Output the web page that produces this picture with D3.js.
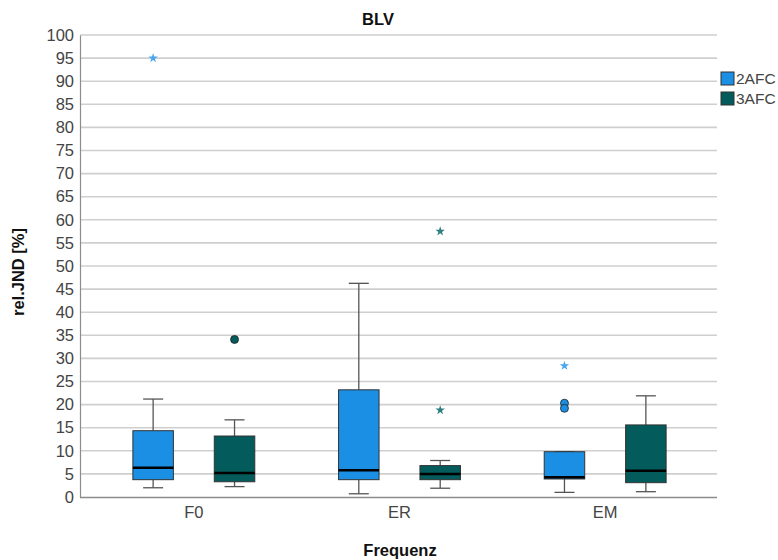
<!DOCTYPE html>
<html><head><meta charset="utf-8">
<script src="https://cdn.jsdelivr.net/npm/d3@7"></script>
<style>body{margin:0;background:#fff}svg{display:block}text{font-family:"Liberation Sans",Arial,sans-serif}</style>
</head><body><svg id="c" width="778" height="560"></svg>
<script>
const categories = ["F0", "ER", "EM"];
const seriesNames = ["2AFC", "3AFC"];
const seriesColors = ["#1a8fe3", "#035b5b"];
const starColors = ["#4aa6ee", "#2e7f7f"];
// [whiskerLow, q1, median, q3, whiskerHigh] per category, per series
const box2AFC = [[2.0, 3.75, 6.35, 14.35, 21.2], [0.7, 3.75, 5.8, 23.2, 46.25], [1.0, 3.9, 4.25, 9.8, 9.8]];
const box3AFC = [[2.25, 3.3, 5.2, 13.2, 16.7], [1.9, 3.75, 5.0, 6.8, 7.9], [1.15, 3.1, 5.7, 15.6, 21.9]];
// outliers: [categoryIndex, value, type]
const outliers2AFC = [[0, 95.0, "star"], [2, 28.4, "star"], [2, 20.3, "circle"], [2, 19.2, "circle"]];
const outliers3AFC = [[0, 34.1, "circle"], [1, 57.5, "star"], [1, 18.8, "star"]];
const yTicks = d3.range(0, 101, 5);

const svg = d3.select("#c");
const y = d3.scaleLinear().domain([0, 100]).range([497, 35]);
const x = d3.scaleBand().domain(categories).range([91, 708]);
const plotL = 80, plotR = 717;
const bw = 40.5;
const offs = {"2AFC": -40.7, "3AFC": 40.7};

// gridlines
svg.append("g").selectAll("line").data(yTicks.filter(d => d > 0)).join("line")
  .attr("x1", plotL).attr("x2", plotR).attr("y1", d => y(d)).attr("y2", d => y(d))
  .attr("stroke", "#cfcfcf").attr("stroke-width", 1.6);

// y axis
const ya = svg.append("g").attr("transform", `translate(${plotL},0)`)
  .call(d3.axisLeft(y).tickValues(yTicks).tickSize(0).tickPadding(6));
ya.select(".domain").attr("stroke", "#8c8c8c").attr("stroke-width", 1.2);
ya.selectAll("text").attr("font-size", 16.5).attr("fill", "#444");

// x axis
const xa = svg.append("g").attr("transform", `translate(0,497)`)
  .call(d3.axisBottom(x).tickSize(0).tickPadding(9));
xa.select(".domain").remove();
svg.append("line").attr("x1", plotL).attr("x2", plotR).attr("y1", 497.5).attr("y2", 497.5)
  .attr("stroke", "#8c8c8c").attr("stroke-width", 1.4);
xa.selectAll("text").attr("font-size", 16.5).attr("fill", "#444");

function drawSeries(data, name, color, outs, starColor) {
  const g = svg.append("g");
  data.forEach((b, i) => {
    const cx = x(categories[i]) + x.bandwidth() / 2 + offs[name];
    const [lo, q1, med, q3, hi] = b;
    g.append("line").attr("x1", cx).attr("x2", cx).attr("y1", y(q3)).attr("y2", y(hi)).attr("stroke", "#555").attr("stroke-width", 1.3);
    g.append("line").attr("x1", cx).attr("x2", cx).attr("y1", y(q1)).attr("y2", y(lo)).attr("stroke", "#555").attr("stroke-width", 1.3);
    g.append("line").attr("x1", cx - 10).attr("x2", cx + 10).attr("y1", y(hi)).attr("y2", y(hi)).attr("stroke", "#555").attr("stroke-width", 1.3);
    g.append("line").attr("x1", cx - 10).attr("x2", cx + 10).attr("y1", y(lo)).attr("y2", y(lo)).attr("stroke", "#555").attr("stroke-width", 1.3);
    g.append("rect").attr("x", cx - bw / 2).attr("width", bw).attr("y", y(q3)).attr("height", y(q1) - y(q3))
      .attr("fill", color).attr("stroke", "#333").attr("stroke-width", 1);
    g.append("line").attr("x1", cx - bw / 2).attr("x2", cx + bw / 2).attr("y1", y(med)).attr("y2", y(med)).attr("stroke", "#000").attr("stroke-width", 2.5);
  });
  outs.forEach(([ci, v, t]) => {
    const cx = x(categories[ci]) + x.bandwidth() / 2 + offs[name];
    if (t === "circle") {
      g.append("circle").attr("cx", cx).attr("cy", y(v)).attr("r", 4).attr("fill", color).attr("stroke", "#222").attr("stroke-width", 0.8);
    } else {
      g.append("path").attr("d", d3.symbol(d3.symbolStar, 28)()).attr("transform", `translate(${cx},${y(v)})`).attr("fill", starColor);
    }
  });
}
drawSeries(box2AFC, "2AFC", seriesColors[0], outliers2AFC, starColors[0]);
drawSeries(box3AFC, "3AFC", seriesColors[1], outliers3AFC, starColors[1]);

// title and axis labels
svg.append("text").attr("x", 378).attr("y", 25).attr("text-anchor", "middle").attr("font-size", 16.5).attr("font-weight", "bold").attr("fill", "#111").text("BLV");
svg.append("text").attr("transform", "translate(24,272) rotate(-90)").attr("text-anchor", "middle").attr("font-size", 16.5).attr("font-weight", "bold").attr("fill", "#111").text("rel.JND [%]");
svg.append("text").attr("x", 400).attr("y", 556).attr("text-anchor", "middle").attr("font-size", 16.5).attr("font-weight", "bold").attr("fill", "#111").text("Frequenz");

// legend
const lg = svg.append("g").attr("transform", "translate(721,72)");
seriesNames.forEach((n, i) => {
  lg.append("rect").attr("x", 0).attr("y", i * 20).attr("width", 13).attr("height", 13).attr("fill", seriesColors[i]).attr("stroke", "#333").attr("stroke-width", 1);
  lg.append("text").attr("x", 15).attr("y", i * 20 + 12).attr("font-size", 15.5).attr("fill", "#444").text(n);
});
</script></body></html>
